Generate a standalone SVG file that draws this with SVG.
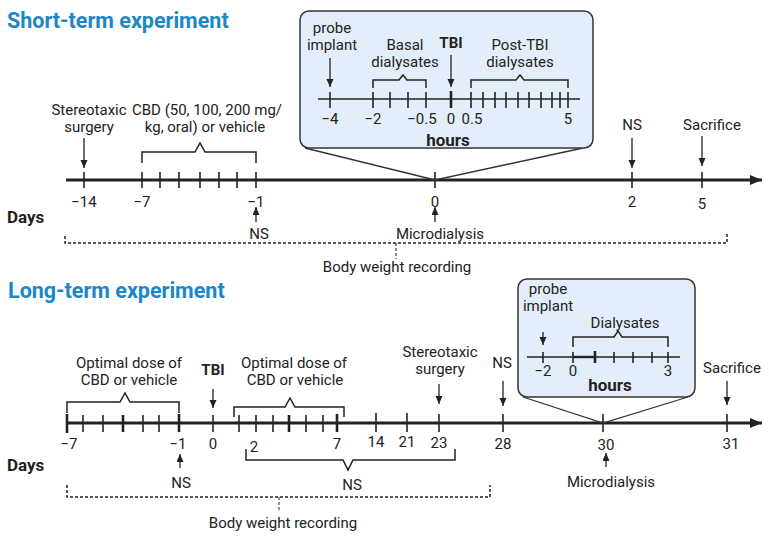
<svg xmlns="http://www.w3.org/2000/svg" width="769" height="538" viewBox="0 0 769 538">
<defs>
<style>
.t{font-family:Roboto,"Liberation Sans",sans-serif;font-size:15px;fill:#222;text-anchor:middle}
.b{font-weight:bold}
.h{font-size:17px;font-weight:bold}
.s{text-anchor:start}
.title{font-family:Roboto,"Liberation Sans",sans-serif;font-size:21.5px;font-weight:bold;fill:#1b86c8}
.axis{stroke:#222;stroke-width:3;fill:none;marker-end:url(#big)}
.tick{stroke:#222;stroke-width:1.6}
.tk{stroke:#222;stroke-width:2.6}
.ax2{stroke:#222;stroke-width:1.6}
.bk{fill:none;stroke:#222;stroke-width:1.5}
.arr{stroke:#222;stroke-width:1.3;fill:none;marker-end:url(#ah)}
.box{fill:#e4eefa;stroke:#333;stroke-width:1.5}
.zl{stroke:#333;stroke-width:1.3;fill:none}
.dot{stroke:#222;stroke-width:1.5;stroke-dasharray:3 2;fill:none}
.dv{stroke:#222;stroke-width:1;stroke-dasharray:3 2;fill:none}
</style>
<marker id="ah" markerUnits="userSpaceOnUse" markerWidth="8" markerHeight="8" refX="8" refY="3.5" orient="auto"><path d="M0,0 L8,3.5 L0,7 z" fill="#222"/></marker>
<marker id="big" markerUnits="userSpaceOnUse" markerWidth="13" markerHeight="11" refX="12" refY="5" orient="auto"><path d="M0,0 L12,5 L0,10 z" fill="#222"/></marker>
</defs>
<rect width="769" height="538" fill="#fff"/>

<g id="short-term">
<text class="title" x="7" y="28">Short-term experiment</text>
<g id="st-axis">
<path class="axis" d="M66,180 H762"/>
<g class="tick">
<line x1="84" y1="172" x2="84" y2="188"/><line x1="142" y1="172" x2="142" y2="188"/>
<line x1="160" y1="172" x2="160" y2="188"/><line x1="179" y1="172" x2="179" y2="188"/>
<line x1="200" y1="172" x2="200" y2="188"/><line x1="219" y1="172" x2="219" y2="188"/>
<line x1="237" y1="172" x2="237" y2="188"/><line x1="256" y1="172" x2="256" y2="188"/>
<line x1="435" y1="172" x2="435" y2="188"/><line x1="632" y1="172" x2="632" y2="188"/>
<line x1="702" y1="172" x2="702" y2="188"/>
</g>
<text class="t" x="84" y="207">−14</text><text class="t" x="142" y="207">−7</text>
<text class="t" x="256" y="207">−1</text><text class="t" x="435" y="207">0</text>
<text class="t" x="632" y="207">2</text><text class="t" x="702" y="209">5</text>
<text class="t h s" x="7" y="223">Days</text>
</g>
<g id="st-surgery"><text class="t" x="89" y="115">Stereotaxic</text><text class="t" x="89" y="132">surgery</text></g>
<g id="st-cbd"><text class="t" x="207" y="115">CBD (50, 100, 200 mg/</text><text class="t" x="205" y="132">kg, oral) or vehicle</text>
<path class="bk" d="M142,163 V152 H195 L200,143 L205,152 H256 V163"/></g>
<g id="st-ns1"><text class="t" x="259" y="239">NS</text></g>
<g id="st-micro"><text class="t" x="440" y="239">Microdialysis</text></g>
<g id="st-ns2"><text class="t" x="632" y="130">NS</text></g>
<g id="st-sacrifice"><text class="t" x="712" y="130">Sacrifice</text></g>
<g id="st-bw"><path class="dot" d="M65,236 V243 H727 V233"/><path class="dv" d="M396,243 V259"/>
<text class="t" x="397" y="272">Body weight recording</text></g>
<g id="st-inset">
<path class="zl" d="M305,148 L435,180 L583,148"/>
<rect class="box" x="300" y="11" width="293" height="137" rx="9"/>
<line class="ax2" x1="318" y1="99" x2="580" y2="99"/>
<g class="tick">
<line x1="330" y1="92" x2="330" y2="108"/><line x1="373" y1="92" x2="373" y2="108"/>
<line x1="390" y1="92" x2="390" y2="108"/><line x1="408" y1="92" x2="408" y2="108"/>
<line x1="426" y1="92" x2="426" y2="108"/>
<line x1="471" y1="92" x2="471" y2="108"/><line x1="483" y1="92" x2="483" y2="108"/>
<line x1="495" y1="92" x2="495" y2="108"/><line x1="506" y1="92" x2="506" y2="108"/>
<line x1="518" y1="92" x2="518" y2="108"/><line x1="529" y1="92" x2="529" y2="108"/>
<line x1="541" y1="92" x2="541" y2="108"/><line x1="552" y1="92" x2="552" y2="108"/>
<line x1="560" y1="92" x2="560" y2="108"/><line x1="568" y1="92" x2="568" y2="108"/>
</g>
<line class="tk" x1="451" y1="91" x2="451" y2="108"/>
<text class="t" x="330" y="124">−4</text><text class="t" x="373" y="124">−2</text>
<text class="t" x="422" y="124">−0.5</text><text class="t" x="451" y="124">0</text>
<text class="t" x="472" y="124">0.5</text><text class="t" x="568" y="124">5</text>
<text class="t h" x="448" y="146">hours</text>
<g id="st-probe"><text class="t" x="332" y="33">probe</text><text class="t" x="332" y="50">implant</text></g>
<g id="st-basal"><text class="t" x="405" y="50">Basal</text><text class="t" x="405" y="67">dialysates</text>
<path class="bk" d="M373,88 V80 H399 L403,75 L407,80 H426 V88"/></g>
<g id="st-tbi"><text class="t b" x="451" y="48">TBI</text></g>
<g id="st-post"><text class="t" x="520" y="50">Post-TBI</text><text class="t" x="520" y="67">dialysates</text>
<path class="bk" d="M471,88 V80 H516 L520,75 L524,80 H568 V88"/></g>
</g>
</g>

<g id="long-term">
<text class="title" x="8" y="298">Long-term experiment</text>
<g id="lt-axis">
<path class="axis" d="M66,423 H762"/>
<g class="tick">
<line x1="83" y1="415" x2="83" y2="432"/><line x1="103" y1="415" x2="103" y2="432"/>
<line x1="143" y1="415" x2="143" y2="432"/><line x1="159" y1="415" x2="159" y2="432"/>
<line x1="213" y1="415" x2="213" y2="432"/>
<line x1="239" y1="415" x2="239" y2="432"/><line x1="256" y1="415" x2="256" y2="432"/>
<line x1="273" y1="415" x2="273" y2="432"/><line x1="306" y1="415" x2="306" y2="432"/>
<line x1="323" y1="415" x2="323" y2="432"/>
<line x1="376" y1="413" x2="376" y2="432"/><line x1="407" y1="413" x2="407" y2="432"/>
<line x1="439" y1="414" x2="439" y2="432"/><line x1="503" y1="414" x2="503" y2="432"/>
<line x1="603" y1="414" x2="603" y2="432"/><line x1="727" y1="414" x2="727" y2="432"/>
</g>
<g class="tk">
<line x1="67" y1="414" x2="67" y2="433"/><line x1="123" y1="415" x2="123" y2="432"/>
<line x1="179" y1="414" x2="179" y2="432"/><line x1="289" y1="415" x2="289" y2="432"/>
<line x1="337" y1="414" x2="337" y2="432"/>
</g>
<text class="t" x="69" y="449">−7</text><text class="t" x="178" y="449">−1</text>
<text class="t" x="213" y="449">0</text><text class="t" x="254" y="452">2</text>
<text class="t" x="337" y="449">7</text><text class="t" x="376" y="447">14</text>
<text class="t" x="407" y="447">21</text><text class="t" x="439" y="448">23</text>
<text class="t" x="503" y="449">28</text><text class="t" x="606" y="450">30</text>
<text class="t" x="731" y="449">31</text>
<text class="t h s" x="7" y="471">Days</text>
</g>
<g id="lt-cbd1"><text class="t" x="129" y="368">Optimal dose of</text><text class="t" x="129" y="385">CBD or vehicle</text>
<path class="bk" d="M67,413 V402 H120 L125,393 L130,402 H179 V413"/></g>
<g id="lt-tbi"><text class="t b" x="213" y="375">TBI</text></g>
<g id="lt-cbd2"><text class="t" x="294" y="368">Optimal dose of</text><text class="t" x="295" y="385">CBD or vehicle</text>
<path class="bk" d="M234,417 V407 H285 L290,398 L295,407 H344 V417"/></g>
<g id="lt-surgery"><text class="t" x="440" y="357">Stereotaxic</text><text class="t" x="440" y="374">surgery</text></g>
<g id="lt-ns28"><text class="t" x="502" y="368">NS</text></g>
<g id="lt-sacrifice"><text class="t" x="732" y="373">Sacrifice</text></g>
<g id="lt-ns1"><text class="t" x="181" y="488">NS</text></g>
<g id="lt-ns2"><path class="bk" d="M246,449 V460 H343 L348,470 L353,460 H455 V449"/><text class="t" x="352" y="490">NS</text></g>
<g id="lt-micro"><text class="t" x="611" y="487">Microdialysis</text></g>
<g id="lt-bw"><path class="dot" d="M67,485 V497 H490 V485"/><path class="dv" d="M279,497 V510"/>
<text class="t" x="283" y="528">Body weight recording</text></g>
<g id="lt-inset">
<path class="zl" d="M523,397 L603,423 L688,397"/>
<rect class="box" x="518" y="279" width="177" height="118" rx="9"/>
<line class="ax2" x1="527" y1="357" x2="680" y2="357"/>
<g class="tick">
<line x1="543" y1="352" x2="543" y2="363"/><line x1="573" y1="352" x2="573" y2="363"/>
<line x1="614" y1="352" x2="614" y2="363"/><line x1="633" y1="352" x2="633" y2="363"/>
<line x1="652" y1="352" x2="652" y2="363"/><line x1="668" y1="352" x2="668" y2="363"/>
</g>
<line class="tk" x1="595" y1="351" x2="595" y2="363"/>
<line x1="573" y1="357" x2="595" y2="357" stroke="#222" stroke-width="2.4"/>
<text class="t" x="543" y="376">−2</text><text class="t" x="573" y="376">0</text><text class="t" x="668" y="376">3</text>
<text class="t h" x="610" y="391">hours</text>
<g id="lt-probe"><text class="t" x="548" y="294">probe</text><text class="t" x="548" y="311">implant</text></g>
<g id="lt-dial"><text class="t" x="625" y="328">Dialysates</text>
<path class="bk" d="M573,347 V337 H614 L618,331 L622,337 H668 V347"/></g>
</g>
</g>

<g id="connectors">
<path class="arr" d="M84,138 V168"/>
<path class="arr" d="M632,138 V168"/>
<path class="arr" d="M702,136 V166"/>
<path class="arr" d="M256,222 V207"/>
<path class="arr" d="M435,222 V207"/>
<path class="arr" d="M330,58 V87"/>
<path class="arr" d="M451,55 V87"/>
<path class="arr" d="M213,389 V408"/>
<path class="arr" d="M439,384 V404"/>
<path class="arr" d="M503,381 V406"/>
<path class="arr" d="M727,381 V405"/>
<path class="arr" d="M180,468 V454"/>
<path class="arr" d="M606,467 V453"/>
<path class="arr" d="M543,332 V345"/>
</g>
</svg>
